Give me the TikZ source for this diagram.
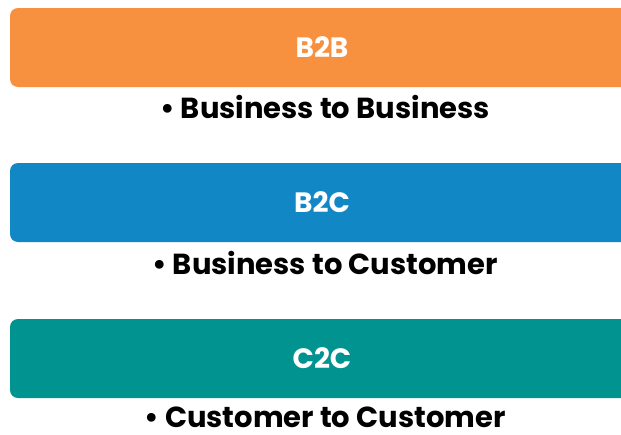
\documentclass[tikz,border=0pt]{standalone}
\usepackage{fontspec}
\setmainfont{Poppins}[BoldFont={* Bold}]
\usepackage{tikz}
\usetikzlibrary{positioning}
\definecolor{orangebar}{RGB}{247,145,64}
\definecolor{bluebar}{RGB}{18,135,198}
\definecolor{tealbar}{RGB}{0,147,143}

\tikzset{
  bar/.style={rounded corners=8pt, minimum width=624pt, minimum height=79pt,
    inner sep=0pt, text=white, font=\fontsize{28}{32}\selectfont\bfseries},
  descr/.style={inner sep=0pt, anchor=base, font=\fontsize{29}{33}\selectfont\bfseries}
}

\begin{document}
\begin{tikzpicture}[x=1pt, y=-1pt]
\clip (0, 0) rectangle (621, 434);
\fill [white] (0, 0) rectangle (621, 434);
% three models, each a coloured bar with its meaning underneath
\node [bar, fill=orangebar] (b2b) at (322, 47.5) {B2B};
\node [descr] (b2btext) at (325, 118.5) {\textbullet\ Business to Business};
\node [bar, fill=bluebar] (b2c) at (322, 202.5) {B2C};
\node [descr] (b2ctext) at (325, 274.5) {\textbullet\ Business to Customer};
\node [bar, fill=tealbar] (c2c) at (322, 358.5) {C2C};
\node [descr] (c2ctext) at (325, 427) {\textbullet\ Customer to Customer};
\end{tikzpicture}
\end{document}
